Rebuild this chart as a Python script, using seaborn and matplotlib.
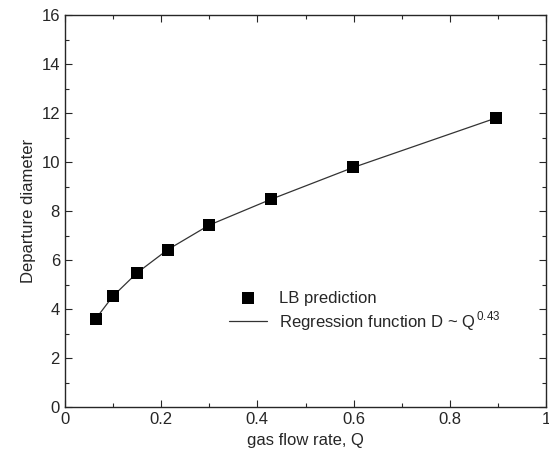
import numpy as np
import pandas as pd
import matplotlib
matplotlib.use('Agg')
import matplotlib.pyplot as plt
from matplotlib.ticker import MultipleLocator
import seaborn as sns

# Data
flow_rate = [0.064, 0.100, 0.150, 0.214, 0.300, 0.428, 0.599, 0.896]
diameter = [3.60, 4.53, 5.48, 6.43, 7.43, 8.48, 9.78, 11.80]

x_ticks = [0, 0.2, 0.4, 0.6, 0.8, 1.0]
x_tick_labels = ['0', '0.2', '0.4', '0.6', '0.8', '1']

df = pd.DataFrame({'Q': flow_rate, 'D': diameter})

sns.set_style('ticks')
plt.rcParams['font.family'] = ['Liberation Sans', 'DejaVu Sans']
plt.rcParams['mathtext.fontset'] = 'custom'
plt.rcParams['mathtext.rm'] = 'Liberation Sans'

fig = plt.figure(figsize=(5.49, 4.55), dpi=100)
ax = fig.add_axes([0.118, 0.105, 0.877, 0.862])

sns.lineplot(data=df, x='Q', y='D', ax=ax, color='#333333', linewidth=0.9,
             label=r'Regression function D ~ Q$^{\,0.43}$')
sns.scatterplot(data=df, x='Q', y='D', ax=ax, marker='s', color='black',
                s=75, edgecolor='black', linewidth=0, label='LB prediction', zorder=3)

ax.set_xlim(0, 1)
ax.set_ylim(0, 16)
ax.set_xticks(x_ticks, x_tick_labels)
ax.xaxis.set_minor_locator(MultipleLocator(0.1))
ax.yaxis.set_major_locator(MultipleLocator(2))
ax.yaxis.set_minor_locator(MultipleLocator(1))
ax.tick_params(which='both', direction='in', top=True, right=True, labelsize=12)
ax.tick_params(which='major', length=5, width=0.8)
ax.tick_params(which='minor', length=3, width=0.8)
for s in ax.spines.values():
    s.set_linewidth(1.0)

ax.set_xlabel('gas flow rate, Q', fontsize=12)
ax.set_ylabel('Departure diameter', fontsize=12)

handles, labels = ax.get_legend_handles_labels()
ax.legend(handles[::-1], labels[::-1], loc='upper left', bbox_to_anchor=(0.31, 0.335),
          frameon=False, fontsize=12, handlelength=2.3, handletextpad=0.7,
          labelspacing=0.2)

fig.savefig('out.png', dpi=100)
